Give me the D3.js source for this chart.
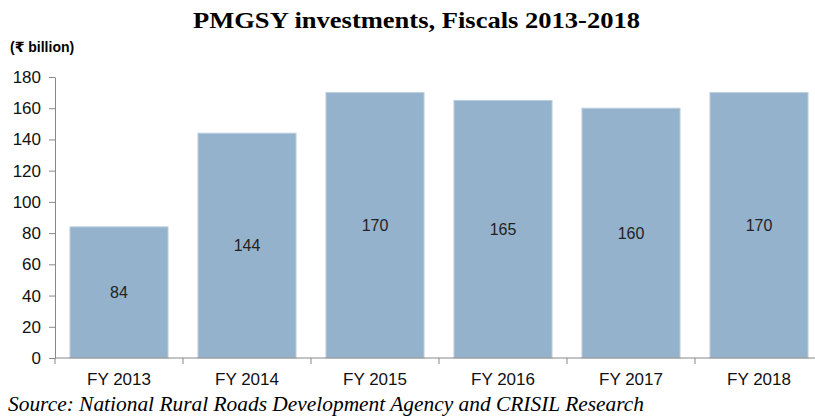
<!DOCTYPE html>
<html>
<head>
<meta charset="utf-8">
<script src="https://cdn.jsdelivr.net/npm/d3@7"></script>
<style>
  body { margin: 0; background: #fff; }
  svg { display: block; }
</style>
</head>
<body>
<div id="wrapper"></div>
<script>
const years = ["FY 2013", "FY 2014", "FY 2015", "FY 2016", "FY 2017", "FY 2018"];
const investments = [84, 144, 170, 165, 160, 170];
const yTicks = [0, 20, 40, 60, 80, 100, 120, 140, 160, 180];

const width = 815, height = 417;
const svg = d3.select("#wrapper").append("svg")
    .attr("width", width)
    .attr("height", height);

// plot area
const x0 = 55, x1 = 823, yBottom = 358, yTop = 77;

const xScaler = d3.scaleBand()
    .domain(years)
    .range([x0, x1])
    .paddingInner(0.234)
    .paddingOuter(0.117);

const yScaler = d3.scaleLinear()
    .domain([0, 180])
    .range([yBottom, yTop]);

svg.append("text")
    .attr("x", 193)
    .attr("y", 28)
    .attr("textLength", 447)
    .attr("lengthAdjust", "spacingAndGlyphs")
    .style("font-family", "'Liberation Serif', 'Times New Roman', serif")
    .style("font-weight", "bold")
    .style("font-size", "24px")
    .text("PMGSY investments, Fiscals 2013-2018");

svg.append("text")
    .attr("x", 10)
    .attr("y", 52)
    .style("font-family", "'Liberation Sans', Arial, 'DejaVu Sans', sans-serif")
    .style("font-weight", "bold")
    .style("font-size", "14px")
    .text("(₹ billion)");

// bars
svg.append("g").selectAll("rect")
    .data(investments)
    .join("rect")
    .attr("x", (d, i) => xScaler(years[i]))
    .attr("width", xScaler.bandwidth())
    .attr("y", d => yScaler(d))
    .attr("height", d => yScaler(0) - yScaler(d))
    .attr("fill", "#95b2cd")
    .attr("stroke", "#b9cde0")
    .attr("stroke-width", 1);

svg.append("g").selectAll("text")
    .data(investments)
    .join("text")
    .attr("x", (d, i) => xScaler(years[i]) + xScaler.bandwidth() / 2)
    .attr("y", d => (yScaler(d) + yScaler(0)) / 2)
    .attr("dy", "0.35em")
    .attr("text-anchor", "middle")
    .style("font-family", "'Liberation Sans', Arial, sans-serif")
    .style("font-size", "16px")
    .attr("fill", "#222")
    .text(d => d);

// y axis
const yAxis = d3.axisLeft(yScaler)
    .tickValues(yTicks)
    .tickSize(6)
    .tickPadding(8)
    .tickSizeOuter(0);

const yG = svg.append("g")
    .attr("transform", `translate(${x0},0)`)
    .call(yAxis);
yG.selectAll("line, path").attr("stroke", "#888");
yG.selectAll("text")
    .style("font-family", "'Liberation Sans', Arial, sans-serif")
    .style("font-size", "17px")
    .attr("fill", "#111");

// x axis with ticks between the bars
const xG = svg.append("g")
    .attr("transform", `translate(0,${yBottom})`);
xG.append("line")
    .attr("x1", x0).attr("x2", x1)
    .attr("stroke", "#888");
const step = xScaler.step();
xG.selectAll(".sep")
    .data(years)
    .join("line")
    .attr("class", "sep")
    .attr("x1", d => xScaler(d) - step * 0.117)
    .attr("x2", d => xScaler(d) - step * 0.117)
    .attr("y1", 0).attr("y2", 6)
    .attr("stroke", "#888");
xG.selectAll("text")
    .data(years)
    .join("text")
    .attr("x", d => xScaler(d) + xScaler.bandwidth() / 2)
    .attr("y", 27)
    .attr("text-anchor", "middle")
    .style("font-family", "'Liberation Sans', Arial, sans-serif")
    .style("font-size", "17px")
    .attr("fill", "#111")
    .text(d => d);

svg.append("text")
    .attr("x", 8)
    .attr("y", 411)
    .attr("textLength", 636)
    .attr("lengthAdjust", "spacingAndGlyphs")
    .style("font-family", "'Liberation Serif', 'Times New Roman', serif")
    .style("font-style", "italic")
    .style("font-size", "20px")
    .text("Source: National Rural Roads Development Agency and CRISIL Research");
</script>
</body>
</html>
